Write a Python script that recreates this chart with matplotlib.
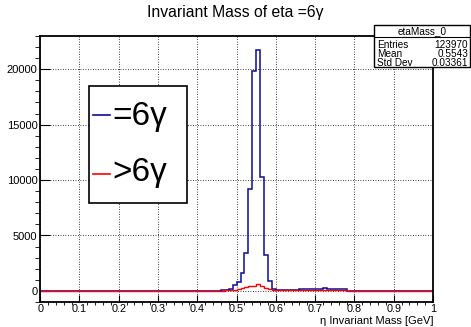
import matplotlib
matplotlib.use("Agg")
import matplotlib.pyplot as plt
import numpy as np
from matplotlib.patches import Rectangle
from matplotlib.lines import Line2D

plt.rcParams['font.family'] = ['Liberation Sans', 'DejaVu Sans']

# 100 bins of 0.01 GeV between 0 and 1
bin_edges = np.linspace(0.0, 1.0, 101)

# counts per bin for exactly 6 photons, nonzero region starts at bin 46
eq6_start = 46
eq6_counts = [60, 80, 200, 500, 800, 1600, 3400, 9200, 19800, 21760,
              10270, 3250, 850, 200, 120, 100, 100, 90, 90, 110,
              130, 160, 170, 170, 180, 170, 230, 200, 180, 170,
              150, 140]

# counts per bin for more than 6 photons
gt6_start = 46
gt6_counts = [20, 40, 60, 110, 180, 260, 330, 400, 450, 620,
              400, 260, 130, 60, 60, 50, 50, 55, 60, 60,
              70, 70, 75, 80, 75, 70, 70, 65, 60, 55,
              50, 45]

legend_labels = ["=6γ", ">6γ"]
line_colors = ['#0a0a9c', '#ff0000']

stats_name = "etaMass_0"
stats_rows = [("Entries", "123970"), ("Mean", "0.5543"), ("Std Dev", "0.03361")]


def fill_bins(start, counts):
    h = np.zeros(len(bin_edges) - 1)
    h[start:start + len(counts)] = counts
    return h


h_eq6 = fill_bins(eq6_start, eq6_counts)
h_gt6 = fill_bins(gt6_start, gt6_counts)

W, H = 471, 327
fig = plt.figure(figsize=(W / 100, H / 100), dpi=100)
ax = fig.add_axes([40.2 / W, 1 - 302 / H, (433 - 40.2) / W, (302 - 36) / H])


def fx(px):
    return px / W


def fy(py):
    return 1 - py / H


ax.stairs(h_eq6, bin_edges, color=line_colors[0], linewidth=1.1)
ax.stairs(h_gt6, bin_edges, color=line_colors[1], linewidth=1.0)

ax.set_xlim(0, 1)
ax.set_ylim(-1000, 23000)
ax.set_xticks(np.arange(0, 1.01, 0.1))
ax.set_xticklabels([f"{v:g}" for v in np.arange(0, 1.01, 0.1)])
ax.set_xticks(np.arange(0, 1.001, 0.02), minor=True)
ax.set_yticks(np.arange(0, 20001, 5000))
ax.set_yticks(np.arange(-1000, 23001, 1000), minor=True)

ax.tick_params(direction='in', labelsize=8, pad=2)
ax.tick_params(axis='x', pad=1.5, labelsize=7.8)
ax.tick_params(axis='y', which='major', length=7)
ax.tick_params(axis='y', which='minor', length=3.5)
ax.tick_params(axis='x', which='major', length=5)
ax.tick_params(axis='x', which='minor', length=2.5)
ax.grid(True, which='major', color='black', linestyle=(0, (1, 2)), linewidth=0.6)
ax.set_axisbelow(True)
for sp in ax.spines.values():
    sp.set_linewidth(1.3)

ax.set_xlabel("η Invariant Mass [GeV]", fontsize=8, ha='right', va='baseline')
ax.xaxis.set_label_coords(1.0, -(324 - 302) / 266)

fig.text(fx(235), fy(12), "Invariant Mass of eta =6γ", ha='center', va='center', fontsize=11.3)

# legend box, drawn by hand in the ROOT style (short line + big label)
fig.patches.append(Rectangle((fx(89.3), fy(202.7)), fx(187.3) - fx(89.3), fy(86) - fy(202.7),
                             transform=fig.transFigure, facecolor='white', edgecolor='black',
                             linewidth=1.2, zorder=5))
for i, (lab, col) in enumerate(zip(legend_labels, line_colors)):
    line_y = 115 + 59 * i
    base_y = 125.5 + 56 * i
    fig.add_artist(Line2D([fx(93), fx(110)], [fy(line_y), fy(line_y)], transform=fig.transFigure,
                          color=col, linewidth=1.2, zorder=6))
    fig.text(fx(112), fy(base_y), lab, ha='left', va='baseline', fontsize=24, zorder=6)

# statistics box in the upper right corner
bx0, bx1, by0, by1 = fx(374), fx(470), fy(67), fy(25)
fig.patches.append(Rectangle((bx0, by0), bx1 - bx0, by1 - by0, transform=fig.transFigure,
                             facecolor='white', edgecolor='black', linewidth=1.0, zorder=5))
hdr_y = fy(36.5)
fig.add_artist(Line2D([bx0, bx1], [hdr_y, hdr_y], transform=fig.transFigure, color='black', linewidth=0.8, zorder=6))
fig.text((bx0 + bx1) / 2, (by1 + hdr_y) / 2, stats_name, ha='center', va='center', fontsize=7.2, zorder=7)
for i, (k, v) in enumerate(stats_rows):
    y = fy(45.5 + 8.5 * i)
    fig.text(fx(377), y, k, ha='left', va='center', fontsize=7.2, zorder=7)
    fig.text(fx(468), y, v, ha='right', va='center', fontsize=7.2, zorder=7)

fig.savefig("out.png", dpi=100)
